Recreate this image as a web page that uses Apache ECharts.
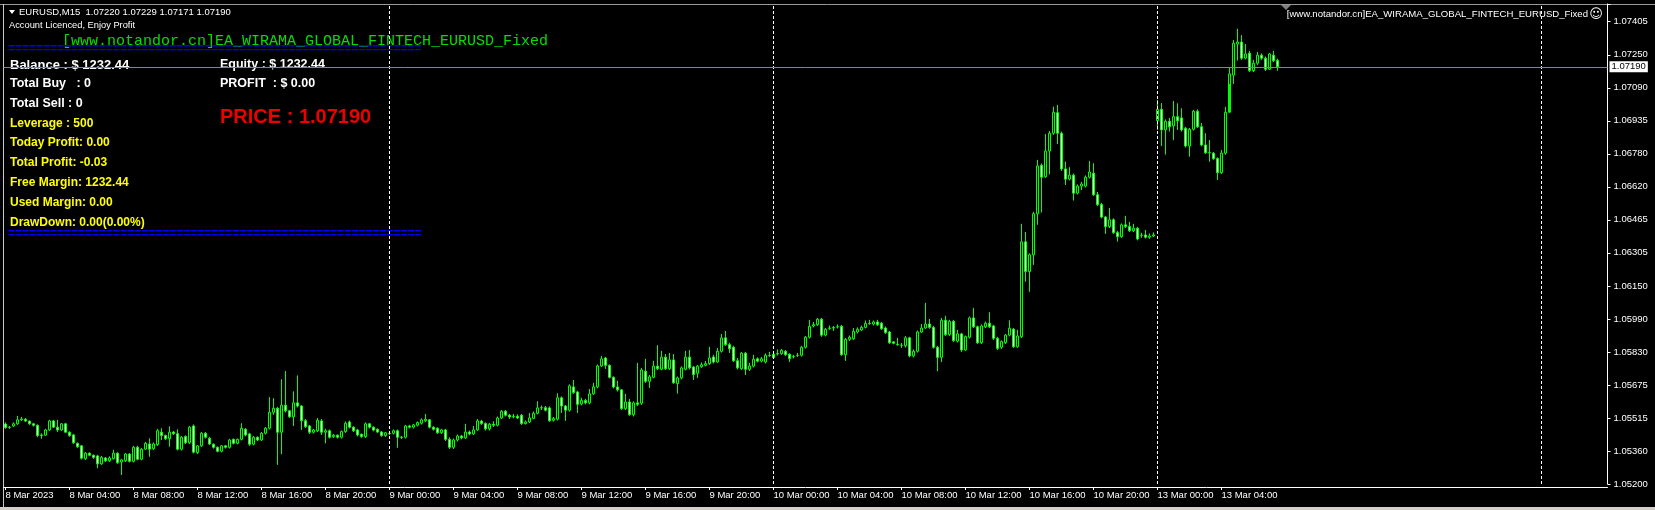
<!DOCTYPE html>
<html><head><meta charset="utf-8">
<script src="https://cdn.jsdelivr.net/npm/echarts@6/dist/echarts.min.js"></script>
<style>html,body{margin:0;padding:0;background:#000;overflow:hidden}#c{width:1655px;height:510px}</style>
</head><body><div id="c"></div><script>
// ---- time slots (M15) ----
const days = ['8 Mar', '9 Mar', '10 Mar', '13 Mar', '14 Mar'];
const slotsShown = 401;
const firstLabel = '8 Mar 2023';

// ---- price axis ----
const yMin = 1.05200;
const yStep = yMin / 668;
const yMax = 1.074894;
const yTickLabels = ['1.05200','1.05360','1.05515','1.05675','1.05830','1.05990','1.06150','1.06305','1.06465','1.06620','1.06780','1.06935','1.07090','1.07250','1.07405'];

// ---- candles ----
const opens = [
1.05486,1.05470,1.05477,1.05487,1.05506,1.05509,1.05500,1.05487,1.05480,1.05431,1.05433,1.05458,1.05501,1.05471,1.05458,1.05487,
1.05447,1.05434,1.05394,1.05382,1.05321,1.05347,1.05337,1.05334,1.05296,1.05324,1.05311,1.05321,1.05347,1.05305,1.05311,1.05343,
1.05308,1.05375,1.05318,1.05366,1.05391,1.05369,1.05388,1.05447,1.05431,1.05416,1.05448,1.05440,1.05366,1.05426,1.05397,1.05477,
1.05350,1.05382,1.05442,1.05418,1.05390,1.05375,1.05356,1.05382,1.05375,1.05413,1.05394,1.05413,1.05461,1.05439,1.05390,1.05423,
1.05410,1.05442,1.05466,1.05542,1.05561,1.05447,1.05576,1.05549,1.05521,1.05587,1.05572,1.05502,1.05477,1.05447,1.05454,1.05501,
1.05447,1.05454,1.05426,1.05433,1.05423,1.05450,1.05496,1.05471,1.05458,1.05437,1.05426,1.05487,1.05471,1.05461,1.05448,1.05431,
1.05441,1.05442,1.05454,1.05422,1.05423,1.05477,1.05471,1.05480,1.05490,1.05502,1.05506,1.05471,1.05466,1.05445,1.05458,1.05413,
1.05375,1.05410,1.05429,1.05420,1.05448,1.05439,1.05458,1.05500,1.05488,1.05463,1.05485,1.05480,1.05515,1.05547,1.05528,1.05521,
1.05523,1.05528,1.05488,1.05496,1.05513,1.05537,1.05563,1.05564,1.05563,1.05504,1.05509,1.05611,1.05572,1.05552,1.05663,1.05639,
1.05582,1.05598,1.05587,1.05630,1.05663,1.05763,1.05801,1.05766,1.05709,1.05663,1.05649,1.05560,1.05591,1.05531,1.05587,1.05585,
1.05738,1.05690,1.05709,1.05762,1.05747,1.05805,1.05750,1.05792,1.05679,1.05706,1.05747,1.05805,1.05758,1.05728,1.05760,1.05766,
1.05774,1.05806,1.05782,1.05833,1.05897,1.05865,1.05852,1.05788,1.05750,1.05824,1.05747,1.05762,1.05797,1.05786,1.05782,1.05813,
1.05819,1.05820,1.05822,1.05833,1.05819,1.05807,1.05813,1.05814,1.05852,1.05900,1.05954,1.05960,1.05986,1.05910,1.05942,1.05944,
1.05949,1.05952,1.05817,1.05890,1.05893,1.05925,1.05935,1.05947,1.05965,1.05963,1.05973,1.05967,1.05944,1.05925,1.05878,1.05866,
1.05862,1.05859,1.05897,1.05811,1.05833,1.05925,1.05944,1.05963,1.05947,1.05852,1.05804,1.05981,1.05913,1.05976,1.05881,1.05916,
1.05839,1.05900,1.05992,1.05950,1.05874,1.05950,1.05967,1.05954,1.05895,1.05852,1.05874,1.05910,1.05938,1.05855,1.05903,1.06355,
1.06213,1.06293,1.06489,1.06720,1.06666,1.06788,1.06873,1.06971,1.06873,1.06703,1.06654,1.06673,1.06587,1.06621,1.06621,1.06663,
1.06682,1.06580,1.06533,1.06473,1.06428,1.06460,1.06399,1.06380,1.06436,1.06428,1.06408,1.06420,1.06386,1.06388,1.06377,1.06383,
1.06933,1.06987,1.06889,1.06930,1.06908,1.06952,1.06946,1.06897,1.06812,1.06892,1.06978,1.06904,1.06817,1.06780,1.06778,1.06752,
1.06685,1.06778,1.06973,1.07150,1.07298,1.07308,1.07231,1.07255,1.07172,1.07207,1.07245,1.07231,1.07178,1.07245,1.07220
];
const closes = [
1.05469,1.05471,1.05487,1.05506,1.05510,1.05500,1.05487,1.05480,1.05431,1.05434,1.05458,1.05501,1.05471,1.05458,1.05487,1.05447,
1.05431,1.05397,1.05378,1.05323,1.05347,1.05337,1.05327,1.05296,1.05327,1.05311,1.05324,1.05347,1.05302,1.05315,1.05343,1.05308,
1.05375,1.05318,1.05366,1.05394,1.05366,1.05391,1.05454,1.05431,1.05416,1.05447,1.05440,1.05366,1.05423,1.05397,1.05471,1.05352,
1.05382,1.05442,1.05423,1.05391,1.05375,1.05356,1.05382,1.05375,1.05410,1.05394,1.05413,1.05466,1.05434,1.05390,1.05423,1.05410,
1.05442,1.05466,1.05542,1.05561,1.05447,1.05576,1.05549,1.05521,1.05587,1.05572,1.05502,1.05474,1.05447,1.05458,1.05504,1.05447,
1.05454,1.05423,1.05433,1.05423,1.05450,1.05490,1.05471,1.05454,1.05434,1.05426,1.05487,1.05471,1.05457,1.05448,1.05431,1.05444,
1.05442,1.05454,1.05423,1.05423,1.05477,1.05471,1.05482,1.05493,1.05506,1.05509,1.05471,1.05461,1.05445,1.05458,1.05413,1.05375,
1.05410,1.05429,1.05420,1.05448,1.05439,1.05458,1.05501,1.05488,1.05463,1.05485,1.05480,1.05515,1.05547,1.05528,1.05520,1.05523,
1.05515,1.05488,1.05496,1.05515,1.05537,1.05563,1.05564,1.05552,1.05502,1.05512,1.05611,1.05572,1.05552,1.05668,1.05637,1.05580,
1.05598,1.05587,1.05630,1.05663,1.05763,1.05797,1.05766,1.05709,1.05663,1.05649,1.05560,1.05591,1.05531,1.05587,1.05580,1.05744,
1.05690,1.05711,1.05762,1.05750,1.05805,1.05750,1.05792,1.05683,1.05706,1.05754,1.05805,1.05754,1.05722,1.05762,1.05769,1.05774,
1.05801,1.05782,1.05833,1.05897,1.05865,1.05845,1.05788,1.05754,1.05824,1.05747,1.05763,1.05795,1.05786,1.05797,1.05814,1.05814,
1.05803,1.05822,1.05838,1.05817,1.05798,1.05808,1.05814,1.05852,1.05900,1.05952,1.05960,1.05986,1.05910,1.05938,1.05944,1.05946,
1.05950,1.05817,1.05890,1.05900,1.05928,1.05938,1.05947,1.05966,1.05966,1.05973,1.05960,1.05941,1.05922,1.05874,1.05871,1.05865,
1.05862,1.05897,1.05811,1.05833,1.05925,1.05944,1.05963,1.05947,1.05852,1.05804,1.05981,1.05913,1.05976,1.05884,1.05916,1.05839,
1.05903,1.05992,1.05950,1.05874,1.05954,1.05967,1.05950,1.05895,1.05847,1.05879,1.05910,1.05943,1.05855,1.05906,1.06355,1.06213,
1.06293,1.06489,1.06717,1.06663,1.06788,1.06873,1.06973,1.06873,1.06703,1.06654,1.06673,1.06587,1.06621,1.06631,1.06663,1.06688,
1.06580,1.06533,1.06473,1.06428,1.06460,1.06399,1.06380,1.06436,1.06428,1.06408,1.06420,1.06369,1.06387,1.06377,1.06383,1.06388,
1.06987,1.06889,1.06930,1.06904,1.06952,1.06932,1.06889,1.06812,1.06892,1.06978,1.06904,1.06817,1.06780,1.06781,1.06752,1.06685,
1.06778,1.06973,1.07156,1.07302,1.07308,1.07231,1.07251,1.07172,1.07207,1.07245,1.07231,1.07178,1.07251,1.07219,1.07190
];
const lows = [
1.05463,1.05463,1.05472,1.05482,1.05501,1.05496,1.05482,1.05474,1.05423,1.05416,1.05429,1.05453,1.05467,1.05448,1.05453,1.05444,
1.05425,1.05391,1.05372,1.05317,1.05315,1.05332,1.05320,1.05275,1.05291,1.05305,1.05305,1.05317,1.05296,1.05243,1.05305,1.05303,
1.05303,1.05313,1.05313,1.05363,1.05330,1.05363,1.05382,1.05410,1.05410,1.05378,1.05434,1.05360,1.05360,1.05391,1.05391,1.05346,
1.05343,1.05377,1.05417,1.05386,1.05369,1.05351,1.05351,1.05369,1.05369,1.05389,1.05389,1.05408,1.05427,1.05382,1.05384,1.05405,
1.05405,1.05436,1.05460,1.05530,1.05291,1.05342,1.05541,1.05515,1.05477,1.05565,1.05458,1.05467,1.05439,1.05441,1.05448,1.05434,
1.05394,1.05417,1.05420,1.05417,1.05417,1.05444,1.05465,1.05448,1.05427,1.05420,1.05420,1.05465,1.05451,1.05444,1.05425,1.05425,
1.05434,1.05436,1.05373,1.05415,1.05417,1.05465,1.05465,1.05475,1.05484,1.05496,1.05465,1.05455,1.05439,1.05439,1.05405,1.05367,
1.05367,1.05403,1.05413,1.05415,1.05432,1.05434,1.05453,1.05482,1.05455,1.05455,1.05472,1.05475,1.05510,1.05522,1.05510,1.05513,
1.05510,1.05482,1.05484,1.05491,1.05510,1.05532,1.05553,1.05546,1.05496,1.05498,1.05503,1.05539,1.05501,1.05546,1.05630,1.05539,
1.05575,1.05580,1.05580,1.05625,1.05656,1.05758,1.05749,1.05704,1.05656,1.05641,1.05553,1.05553,1.05525,1.05522,1.05572,1.05577,
1.05682,1.05658,1.05704,1.05744,1.05742,1.05744,1.05744,1.05677,1.05631,1.05699,1.05742,1.05746,1.05696,1.05706,1.05754,1.05761,
1.05768,1.05775,1.05778,1.05827,1.05859,1.05825,1.05782,1.05746,1.05744,1.05720,1.05739,1.05756,1.05780,1.05780,1.05775,1.05806,
1.05797,1.05813,1.05816,1.05811,1.05782,1.05799,1.05806,1.05808,1.05846,1.05894,1.05947,1.05954,1.05902,1.05904,1.05935,1.05930,
1.05942,1.05811,1.05787,1.05882,1.05887,1.05918,1.05930,1.05942,1.05959,1.05956,1.05954,1.05935,1.05916,1.05868,1.05866,1.05859,
1.05849,1.05851,1.05804,1.05804,1.05827,1.05921,1.05940,1.05940,1.05846,1.05738,1.05782,1.05906,1.05906,1.05878,1.05875,1.05830,
1.05835,1.05894,1.05944,1.05868,1.05868,1.05944,1.05944,1.05887,1.05839,1.05844,1.05868,1.05904,1.05849,1.05849,1.05897,1.06165,
1.06117,1.06245,1.06436,1.06495,1.06660,1.06677,1.06865,1.06821,1.06693,1.06626,1.06648,1.06552,1.06581,1.06602,1.06614,1.06657,
1.06574,1.06526,1.06467,1.06393,1.06421,1.06393,1.06356,1.06374,1.06421,1.06402,1.06402,1.06362,1.06374,1.06371,1.06369,1.06379,
1.06889,1.06812,1.06771,1.06881,1.06840,1.06889,1.06881,1.06805,1.06761,1.06886,1.06898,1.06810,1.06774,1.06737,1.06746,1.06650,
1.06679,1.06770,1.07108,1.07108,1.07220,1.07223,1.07225,1.07165,1.07165,1.07199,1.07223,1.07170,1.07175,1.07213,1.07171
];
const highs = [
1.05494,1.05477,1.05494,1.05525,1.05520,1.05515,1.05503,1.05491,1.05484,1.05442,1.05463,1.05506,1.05506,1.05506,1.05491,1.05491,
1.05451,1.05439,1.05398,1.05386,1.05353,1.05351,1.05341,1.05339,1.05334,1.05329,1.05332,1.05363,1.05351,1.05320,1.05348,1.05348,
1.05382,1.05382,1.05372,1.05401,1.05418,1.05398,1.05463,1.05466,1.05436,1.05475,1.05453,1.05461,1.05429,1.05432,1.05477,1.05484,
1.05386,1.05448,1.05448,1.05425,1.05393,1.05379,1.05386,1.05386,1.05415,1.05417,1.05417,1.05490,1.05467,1.05444,1.05429,1.05427,
1.05448,1.05472,1.05614,1.05609,1.05568,1.05700,1.05739,1.05553,1.05642,1.05718,1.05577,1.05510,1.05482,1.05463,1.05515,1.05510,
1.05463,1.05460,1.05439,1.05436,1.05455,1.05498,1.05503,1.05475,1.05463,1.05441,1.05494,1.05491,1.05475,1.05465,1.05453,1.05448,
1.05453,1.05460,1.05460,1.05429,1.05482,1.05482,1.05487,1.05498,1.05513,1.05534,1.05510,1.05475,1.05470,1.05463,1.05463,1.05423,
1.05417,1.05436,1.05434,1.05487,1.05455,1.05477,1.05510,1.05506,1.05494,1.05491,1.05499,1.05522,1.05553,1.05553,1.05534,1.05534,
1.05532,1.05534,1.05503,1.05539,1.05546,1.05595,1.05575,1.05572,1.05570,1.05520,1.05633,1.05618,1.05577,1.05675,1.05696,1.05644,
1.05611,1.05606,1.05653,1.05682,1.05770,1.05811,1.05806,1.05770,1.05713,1.05692,1.05653,1.05630,1.05606,1.05594,1.05778,1.05754,
1.05797,1.05720,1.05787,1.05862,1.05835,1.05820,1.05825,1.05820,1.05713,1.05761,1.05835,1.05839,1.05763,1.05768,1.05780,1.05787,
1.05854,1.05816,1.05849,1.05916,1.05930,1.05873,1.05859,1.05801,1.05830,1.05830,1.05778,1.05816,1.05804,1.05806,1.05823,1.05830,
1.05825,1.05842,1.05844,1.05839,1.05823,1.05816,1.05825,1.05859,1.05906,1.05983,1.05973,1.05992,1.05992,1.05944,1.05956,1.05954,
1.05961,1.05959,1.05897,1.05908,1.05944,1.05947,1.05956,1.05980,1.05983,1.05980,1.05983,1.05973,1.05951,1.05930,1.05882,1.05897,
1.05873,1.05906,1.05902,1.05842,1.05932,1.05963,1.06064,1.05987,1.05954,1.05859,1.05992,1.06002,1.05983,1.05983,1.05935,1.05921,
1.05908,1.05999,1.06040,1.05956,1.05961,1.05975,1.06019,1.05959,1.05902,1.05885,1.05916,1.05981,1.05944,1.05935,1.06441,1.06402,
1.06300,1.06498,1.06746,1.06729,1.06869,1.06884,1.07000,1.07008,1.06881,1.06738,1.06711,1.06681,1.06629,1.06641,1.06672,1.06741,
1.06730,1.06593,1.06541,1.06479,1.06517,1.06467,1.06407,1.06443,1.06479,1.06450,1.06441,1.06426,1.06398,1.06412,1.06395,1.06400,
1.07032,1.07017,1.06939,1.06946,1.07027,1.07016,1.06992,1.06903,1.06898,1.06984,1.06987,1.06922,1.06873,1.06841,1.06784,1.06758,
1.06793,1.06999,1.07186,1.07318,1.07371,1.07341,1.07299,1.07266,1.07223,1.07261,1.07254,1.07239,1.07256,1.07266,1.07229
];

if (opens.length !== closes.length || opens.length !== lows.length || opens.length !== highs.length) {
  throw new Error('length mismatch ' + [opens.length, closes.length, lows.length, highs.length].join(','));
}

// ---- build ----
const categories = [];
for (let i = 0; i < slotsShown; i++) {
  const m = (i % 96) * 15;
  categories.push(days[Math.floor(i / 96)] + ' ' + String(Math.floor(m / 60)).padStart(2, '0') + ':' + String(m % 60).padStart(2, '0'));
}
const lastIdx = opens.length - 1;
const ohlc = opens.map((o, i) => [o, closes[i], lows[i], highs[i]]);
const sepIdx = [];
categories.forEach((c, i) => { if (i > 0 && c.endsWith(' 00:00')) sepIdx.push(i); });

const FONT = '"Liberation Sans", Arial, sans-serif';
const labelShown = (idx) => idx % 16 === 0 && idx <= lastIdx;

const chart = echarts.init(document.getElementById('c'), null, { renderer: 'canvas', width: 1655, height: 510 });
chart.setOption({
  backgroundColor: '#000000',
  animation: false,
  grid: { left: 3.5, right: 47.5, top: 4, bottom: 26, containLabel: false, outerBoundsMode: 'none' },
  xAxis: {
    type: 'category', data: categories, boundaryGap: true, offset: 3,
    axisLine: { show: true, lineStyle: { color: '#ffffff', width: 1 } },
    axisTick: { show: true, alignWithLabel: true, length: 3, interval: labelShown, lineStyle: { color: '#ffffff' } },
    axisLabel: {
      interval: labelShown, align: 'left', margin: 3, color: '#ffffff', fontSize: 9.5, fontFamily: FONT,
      formatter: (v, i) => (i === 0 ? firstLabel : v)
    },
    splitLine: { show: false }
  },
  yAxis: {
    type: 'value', position: 'right', min: yMin, max: yMax, interval: yStep, scale: true,
    axisLine: { show: true, lineStyle: { color: '#ffffff', width: 1 } },
    axisTick: { show: true, length: 3, lineStyle: { color: '#ffffff' } },
    axisLabel: {
      margin: 6, color: '#ffffff', fontSize: 9.5, fontFamily: FONT,
      formatter: (v) => {
        const k = Math.round((v - yMin) / yStep);
        if (k < 0 || k >= yTickLabels.length || Math.abs(v - (yMin + k * yStep)) > yStep * 0.01) return '';
        return yTickLabels[k];
      }
    },
    splitLine: { show: false }
  },
  series: [{
    type: 'candlestick',
    data: ohlc,
    barWidth: 2,
    itemStyle: { color: '#000000', color0: '#ffffff', borderColor: '#00ff00', borderColor0: '#00ff00', borderColorDoji: '#00ff00', borderWidth: 1 },
    emphasis: { disabled: true },
    markLine: {
      symbol: ['none', 'none'], silent: true, animation: false, precision: 5,
      emphasis: { disabled: true },
      data: sepIdx.map(i => ({ xAxis: categories[i], lineStyle: { color: '#ffffff', type: [3, 2], width: 1 }, label: { show: false } }))
        .concat([{
          yAxis: closes[lastIdx],
          lineStyle: { color: '#778899', type: 'solid', width: 1 },
          label: { show: true, position: 'end', distance: 2, formatter: p => Number(p.value).toFixed(5), color: '#000000', backgroundColor: '#ffffff', padding: [1, 2, 0, 2], fontSize: 9.5, fontFamily: FONT }
        }])
    }
  }],
  graphic: [
    { type: 'rect', shape: { x: 0, y: 0, width: 1655, height: 4 }, style: { fill: '#000000' }, silent: true },
    { type: 'line', shape: { x1: 0, y1: 4.5, x2: 1655, y2: 4.5 }, style: { stroke: '#9a9a9a', lineWidth: 1 }, silent: true },
    { type: 'line', shape: { x1: 3.5, y1: 4, x2: 3.5, y2: 510 }, style: { stroke: '#c8c8c8', lineWidth: 1 }, silent: true },
    { type: 'rect', shape: { x: 0, y: 507, width: 1655, height: 3 }, style: { fill: '#d4d0c8' }, silent: true },
    { type: 'polygon', shape: { points: [[9, 10], [15, 10], [12, 14]] }, style: { fill: '#ffffff' }, silent: true },
    { type: 'polygon', shape: { points: [[1281, 5], [1291, 5], [1286, 10]] }, style: { fill: '#808080' }, silent: true },
    { type: 'text', x: 19, y: 12, style: { text: 'EURUSD,M15  1.07220 1.07229 1.07171 1.07190', fill: '#ffffff', font: '9.5px ' + FONT, verticalAlign: 'middle' }, silent: true },
    { type: 'text', x: 9, y: 25, style: { text: 'Account Licenced, Enjoy Profit', fill: '#ffffff', font: '9.3px ' + FONT, verticalAlign: 'middle' }, silent: true },
    { type: 'text', x: 62, y: 41, style: { text: '[www.notandor.cn]EA_WIRAMA_GLOBAL_FINTECH_EURUSD_Fixed', fill: '#00e000', font: '15px "Liberation Mono", "Courier New", monospace', verticalAlign: 'middle' }, silent: true },
    { type: 'text', x: 8, y: 48.5, style: { text: '===========================================================', fill: '#0000ff', font: 'bold 12px ' + FONT, verticalAlign: 'middle' }, silent: true },
    { type: 'text', x: 8, y: 234, style: { text: '===========================================================', fill: '#0000ff', font: 'bold 12px ' + FONT, verticalAlign: 'middle' }, silent: true },
    { type: 'text', x: 10, y: 65, style: { text: 'Balance : $ 1232.44', fill: '#ffffff', font: 'bold 13px ' + FONT, verticalAlign: 'middle' }, silent: true },
    { type: 'text', x: 10, y: 84, style: { text: 'Total Buy   : 0', fill: '#ffffff', font: 'bold 12.5px ' + FONT, verticalAlign: 'middle' }, silent: true },
    { type: 'text', x: 10, y: 104, style: { text: 'Total Sell : 0', fill: '#ffffff', font: 'bold 12.5px ' + FONT, verticalAlign: 'middle' }, silent: true },
    { type: 'text', x: 10, y: 123.5, style: { text: 'Leverage : 500', fill: '#ffff00', font: 'bold 12px ' + FONT, verticalAlign: 'middle' }, silent: true },
    { type: 'text', x: 10, y: 143, style: { text: 'Today Profit: 0.00', fill: '#ffff00', font: 'bold 12px ' + FONT, verticalAlign: 'middle' }, silent: true },
    { type: 'text', x: 10, y: 163, style: { text: 'Total Profit: -0.03', fill: '#ffff00', font: 'bold 12px ' + FONT, verticalAlign: 'middle' }, silent: true },
    { type: 'text', x: 10, y: 183, style: { text: 'Free Margin: 1232.44', fill: '#ffff00', font: 'bold 12px ' + FONT, verticalAlign: 'middle' }, silent: true },
    { type: 'text', x: 10, y: 203, style: { text: 'Used Margin: 0.00', fill: '#ffff00', font: 'bold 12px ' + FONT, verticalAlign: 'middle' }, silent: true },
    { type: 'text', x: 10, y: 223, style: { text: 'DrawDown: 0.00(0.00%)', fill: '#ffff00', font: 'bold 12px ' + FONT, verticalAlign: 'middle' }, silent: true },
    { type: 'text', x: 220, y: 65, style: { text: 'Equity : $ 1232.44', fill: '#ffffff', font: 'bold 12.5px ' + FONT, verticalAlign: 'middle' }, silent: true },
    { type: 'text', x: 220, y: 84, style: { text: 'PROFIT  : $ 0.00', fill: '#ffffff', font: 'bold 12.5px ' + FONT, verticalAlign: 'middle' }, silent: true },
    { type: 'text', x: 220, y: 117.5, style: { text: 'PRICE : 1.07190', fill: '#ee0000', font: 'bold 20px ' + FONT, verticalAlign: 'middle' }, silent: true },
    { type: 'text', x: 1588, y: 14, style: { text: '[www.notandor.cn]EA_WIRAMA_GLOBAL_FINTECH_EURUSD_Fixed', fill: '#ffffff', font: '9.6px ' + FONT, align: 'right', verticalAlign: 'middle' }, silent: true },
    { type: 'text', x: 1596, y: 14.5, style: { text: '\u263A', fill: '#ffffff', font: '13px "DejaVu Sans", sans-serif', align: 'center', verticalAlign: 'middle' }, silent: true }
  ]
});
</script></body></html>
